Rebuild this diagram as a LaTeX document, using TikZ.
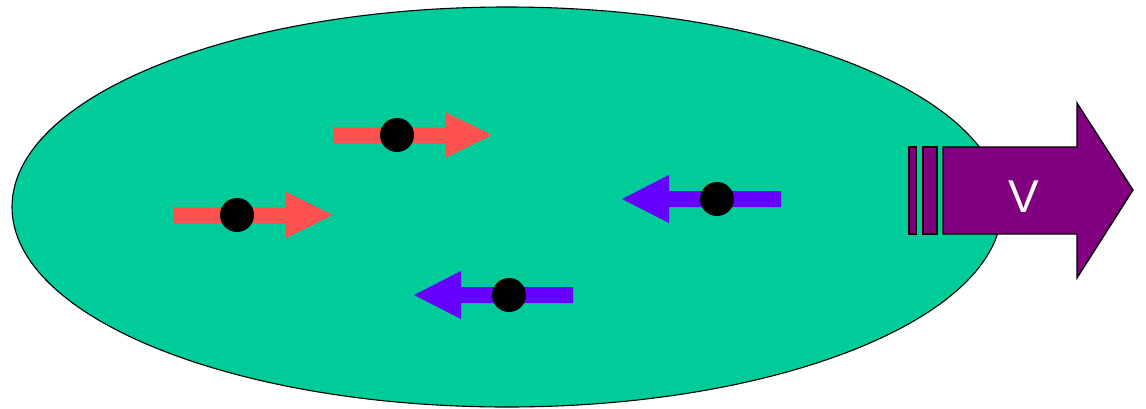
\documentclass[tikz,border=0pt]{standalone}
\usepackage{fontspec}
\setmainfont{Liberation Sans}
\usetikzlibrary{shapes.geometric}
\definecolor{field}{HTML}{00CC99}
\definecolor{redarr}{HTML}{FF5050}
\definecolor{bluearr}{HTML}{6600FF}
\definecolor{purp}{HTML}{800080}
\tikzset{
  particle/.style={circle,fill=black,inner sep=0pt,minimum size=34pt},
  outl/.style={draw=black,line width=1.3pt,line join=miter},
}
\newcommand{\rarrow}[3]{% x-start, y, color ; arrow to the right
  \fill[#3] (#1,#2-8) -- ++(112,0) -- ++(0,-15) -- ++(47,23) -- ++(-47,23) -- ++(0,-15) -- ++(-112,0) -- cycle;}
\newcommand{\larrow}[3]{% x-tip, y, color ; arrow to the left
  \fill[#3] (#1,#2) -- ++(47,-24) -- ++(0,16) -- ++(112,0) -- ++(0,16) -- ++(-112,0) -- ++(0,16) -- cycle;}
\begin{document}
\begin{tikzpicture}[x=1pt,y=-1pt]
\useasboundingbox (0,0) rectangle (1146,408);
\node[ellipse,draw=black,line width=1.1pt,fill=field,minimum width=990pt,minimum height=400pt,inner sep=0pt] (blob) at (507,207) {};
% red arrows
\rarrow{333}{135}{redarr}
\node[particle] (p1) at (397,135) {};
\rarrow{174}{215}{redarr}
\node[particle] (p2) at (237,215) {};
% blue arrows
\larrow{622}{199}{bluearr}
\node[particle] (p3) at (717,199) {};
\larrow{414}{295}{bluearr}
\node[particle] (p4) at (509,295) {};
% velocity arrow
\fill[purp,outl] (909,147) rectangle (916,234);
\fill[purp,outl] (923,147) rectangle (937,234);
\fill[purp,outl] (943,147) -- (1077,147) -- (1077,103) -- (1133,190) -- (1077,278) -- (1077,234) -- (943,234) -- cycle;
\node[text=white,font=\fontsize{46}{50}\selectfont] (v) at (1024,197) {V};
\end{tikzpicture}
\end{document}
